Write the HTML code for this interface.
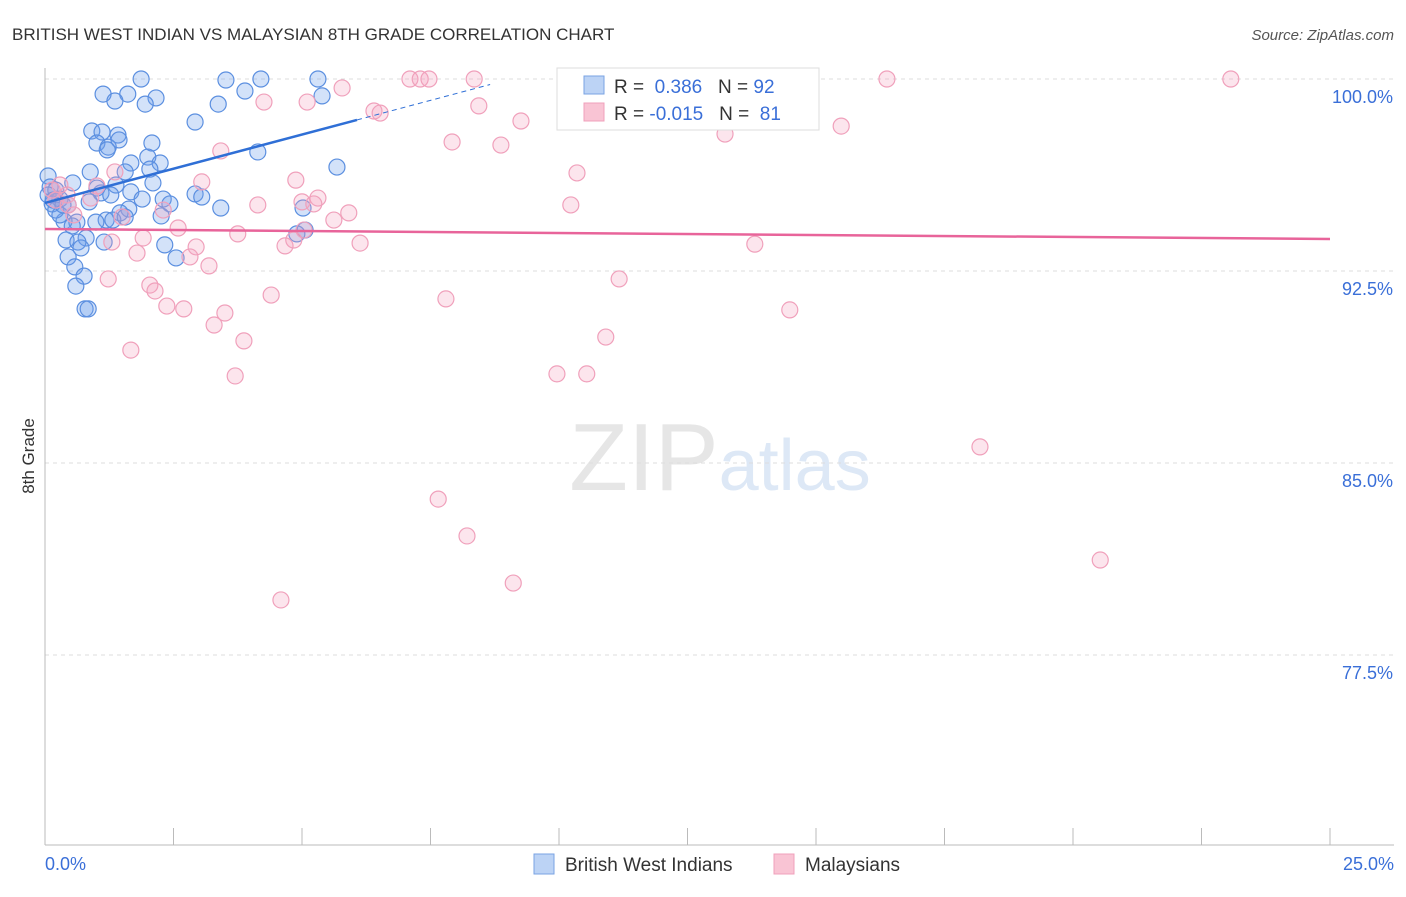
<!DOCTYPE html>
<html><head><meta charset="utf-8"><style>
body{margin:0;background:#fff;font-family:"Liberation Sans",sans-serif}
svg text{font-family:"Liberation Sans",sans-serif}
</style></head><body>
<svg id="chart" width="1406" height="892" xmlns="http://www.w3.org/2000/svg">
<text x="12" y="40" font-size="17" fill="#333">BRITISH WEST INDIAN VS MALAYSIAN 8TH GRADE CORRELATION CHART</text>
<text x="1394" y="40" font-size="15" fill="#555" text-anchor="end" font-style="italic">Source: ZipAtlas.com</text>
<text x="720" y="490" font-size="96" text-anchor="middle" fill="#e6e6e6" font-family="Liberation Serif">ZIP<tspan fill="#dde8f6" font-family="Liberation Sans" font-size="72">atlas</tspan></text>
<text transform="translate(34,456) rotate(-90)" font-size="17" fill="#333" text-anchor="middle">8th Grade</text>
<g id="grid"></g><g id="axes"></g><g id="pts"></g><g id="trends"></g>
<g>
<rect x="557" y="68" width="262" height="62" fill="#fff" stroke="#ddd"/>
<rect x="584" y="76" width="20" height="18" fill="#bcd3f5" stroke="#7aa3e3"/>
<rect x="584" y="103" width="20" height="18" fill="#f9c4d4" stroke="#f0a0bb"/>
<text x="614" y="93" font-size="19" fill="#333">R = <tspan fill="#3a6fd8">&#160;0.386</tspan>&#160;&#160;&#160;N = <tspan fill="#3a6fd8">92</tspan></text>
<text x="614" y="120" font-size="19" fill="#333">R = <tspan fill="#3a6fd8">-0.015</tspan>&#160;&#160;&#160;N = <tspan fill="#3a6fd8">&#160;81</tspan></text>
</g>
<g>
<rect x="534" y="854" width="20" height="20" fill="#bcd3f5" stroke="#7aa3e3"/>
<text x="565" y="871" font-size="19" fill="#333">British West Indians</text>
<rect x="774" y="854" width="20" height="20" fill="#f9c4d4" stroke="#f0a0bb"/>
<text x="805" y="871" font-size="19" fill="#333">Malaysians</text>
</g>
</svg>
<script>
const yTicks=[100,92.5,85,77.5];
const yTickLabels=["100.0%","92.5%","85.0%","77.5%"];
const xTickLabels=["0.0%","25.0%"];
const blueX=[1.87,3.52,4.20,5.31,1.13,1.61,2.16,1.36,1.95,3.37,3.89,5.39,2.92,0.91,1.11,1.42,1.01,1.23,1.44,2.08,1.21,2.00,4.14,1.67,2.24,2.04,0.88,1.56,5.68,0.06,0.54,1.38,2.10,1.01,1.67,1.09,0.10,0.21,1.28,2.92,3.05,1.89,2.30,2.43,0.29,0.86,0.14,0.45,3.42,5.02,1.63,1.46,2.26,1.19,1.32,0.99,0.62,0.37,1.56,0.53,5.06,4.90,0.41,0.80,1.15,0.64,2.33,0.70,0.45,2.55,0.58,0.76,0.60,0.78,0.84,0.21,0.29,0.06,0.16,0.35];
const blueY=[100,99.96,100,100,99.41,99.41,99.26,99.14,99.02,99.02,99.53,99.34,98.32,97.97,97.93,97.81,97.50,97.34,97.62,97.50,97.23,96.95,97.15,96.72,96.72,96.48,96.37,96.37,96.56,96.21,95.94,95.86,95.94,95.74,95.59,95.55,95.78,95.66,95.47,95.51,95.39,95.31,95.31,95.12,95.31,95.20,95.12,95.08,94.96,94.96,94.92,94.77,94.65,94.49,94.49,94.41,94.41,94.45,94.61,94.26,94.10,93.95,93.71,93.79,93.63,93.63,93.52,93.40,93.05,93.01,92.66,92.30,91.91,91.02,91.02,94.88,94.69,95.47,95.27,95.08];
const pinkX=[7.10,7.30,7.47,8.35,11.50,14.09,16.38,23.07,5.78,4.26,5.10,6.40,6.52,8.44,9.26,10.70,11.60,15.49,13.23,7.92,8.87,3.42,10.35,1.36,3.05,4.88,0.29,0.14,0.43,1.01,10.23,4.14,5.31,5.00,5.23,5.91,5.62,2.30,1.50,2.59,0.56,1.91,3.75,5.04,6.13,2.94,4.84,4.67,1.30,13.81,1.79,2.82,3.19,1.23,2.04,2.14,11.17,4.40,7.80,2.37,2.70,3.50,3.29,14.49,10.91,3.87,1.67,3.70,9.96,10.54,18.19,7.65,8.21,20.53,9.11,4.59,0.89,0.21,0.45];
const pinkY=[100,100,100,100,100,100,100,100,99.65,99.10,99.10,98.75,98.67,98.95,98.36,98.71,98.40,98.16,97.85,97.54,97.42,97.19,96.33,96.37,95.98,96.05,95.86,95.66,95.47,95.82,95.08,95.08,95.35,95.20,95.12,94.77,94.49,94.88,94.61,94.18,94.69,93.79,93.95,94.10,93.59,93.44,93.71,93.48,93.63,93.55,93.20,93.05,92.70,92.19,91.95,91.72,92.19,91.56,91.41,91.13,91.02,90.86,90.39,90.98,89.92,89.77,89.41,88.40,88.48,88.48,85.63,83.59,82.15,81.21,80.31,79.65,95.35,95.27,95.08];
const blueTrend=[95.16,0.534];
const pinkTrend=[94.14,-0.0156];
const X=v=>45+v*51.4, Y=v=>79+(100-v)*25.6;
const NS="http://www.w3.org/2000/svg";
function mk(tag,attrs,parent){const e=document.createElementNS(NS,tag);for(const k in attrs)e.setAttribute(k,attrs[k]);document.getElementById(parent).appendChild(e);return e;}
yTicks.forEach((t,i)=>{
 const g=mk('line',{x1:45,x2:1394,y1:Y(t),y2:Y(t),stroke:'#ddd','stroke-dasharray':'4,4'},'grid');
 
 
 const l=mk('text',{x:1393,y:Y(t)+24,'font-size':18,fill:'#3a6fd8','text-anchor':'end'},'grid');
 l.textContent=yTickLabels[i];
 
 
});
const ax=mk('line',{x1:45,x2:45,y1:68,y2:845,stroke:'#bbb'},'axes');


const bx=mk('line',{x1:45,x2:1394,y1:845,y2:845,stroke:'#bbb'},'axes');


for(let i=0;i<=10;i++){const t=mk('line',{x1:X(i*2.5),x2:X(i*2.5),y1:828,y2:845,stroke:'#bbb'},'axes');
 
 }
[[0,'start',45],[25,'end',1394]].forEach((d,i)=>{const l=mk('text',{x:d[2],y:870,'font-size':18,fill:'#3a6fd8','text-anchor':d[1]},'axes');l.textContent=xTickLabels[i];
 
 });
blueX.forEach((x,i)=>{const c=mk('circle',{cx:X(x),cy:Y(blueY[i]),r:8,fill:'rgba(110,160,235,0.3)',stroke:'#5b8fe0','stroke-width':1.2},'pts');
 
 });
pinkX.forEach((x,i)=>{const c=mk('circle',{cx:X(x),cy:Y(pinkY[i]),r:8,fill:'rgba(245,160,190,0.28)',stroke:'#f0a0bb','stroke-width':1.2},'pts');
 
 });
const bt=x=>blueTrend[0]+blueTrend[1]*x, pt=x=>pinkTrend[0]+pinkTrend[1]*x;
const b1=mk('line',{x1:X(0),y1:Y(bt(0)),x2:X(6.07),y2:Y(bt(6.07)),stroke:'#2f6fd6','stroke-width':2.5},'trends');


const b2=mk('line',{x1:X(6.07),y1:Y(bt(6.07)),x2:X(8.66),y2:Y(bt(8.66)),stroke:'#2f6fd6','stroke-width':1,'stroke-dasharray':'5,4'},'trends');


const p1=mk('line',{x1:X(0),y1:Y(pt(0)),x2:X(25),y2:Y(pt(25)),stroke:'#e8649a','stroke-width':2.5},'trends');


</script>
</body></html>
